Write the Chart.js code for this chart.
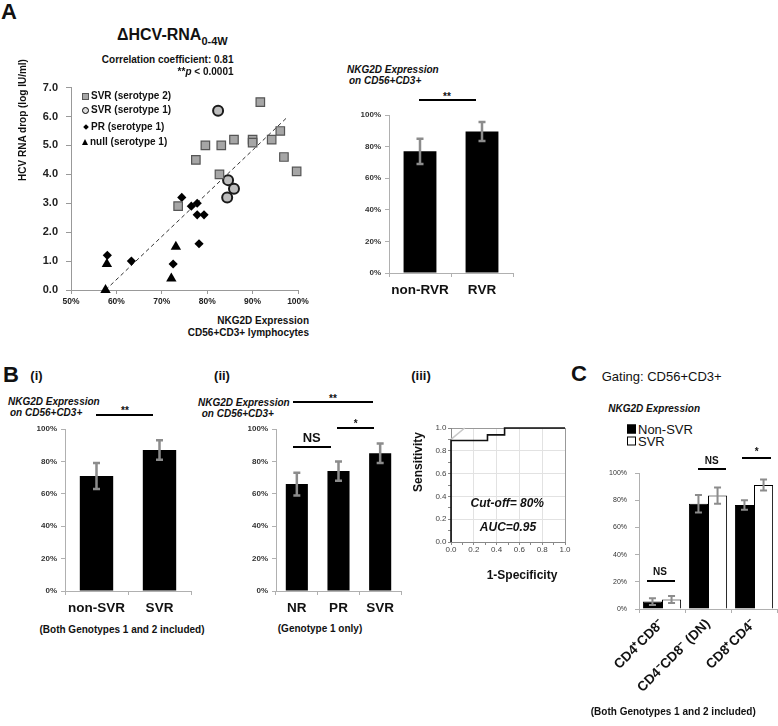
<!DOCTYPE html>
<html>
<head>
<meta charset="utf-8">
<script src="https://cdn.jsdelivr.net/npm/chart.js@4.4.0/dist/chart.umd.min.js"></script>
<style>
html, body { margin: 0; padding: 0; background: #fff; }
#fig { position: relative; width: 778px; height: 726px; overflow: hidden;
       font-family: "Liberation Sans", Arial, Helvetica, sans-serif; color: #111; }
canvas { position: absolute; }
.t { position: absolute; white-space: nowrap; line-height: 1; }
.sig { position: absolute; height: 2px; background: #000; }
</style>
</head>
<body>
<div id="fig">
  <canvas id="scatterA"></canvas>
  <canvas id="rvrBars"></canvas>
  <canvas id="svrBars"></canvas>
  <canvas id="g1Bars"></canvas>
  <canvas id="roc"></canvas>
  <canvas id="subsetBars"></canvas>
</div>
<script>
// ---- data ----
// A: NKG2D expression (%) vs HCV RNA drop (log IU/ml)
const svr2X = [91.7, 79.6, 83.1, 85.9, 90.0, 90.0, 94.2, 96.1, 96.9, 99.7, 77.5, 82.7, 73.6];
const svr2Y = [6.5, 5.0, 5.0, 5.2, 5.2, 5.1, 5.2, 5.5, 4.6, 4.1, 4.5, 4.0, 2.9];
const svr1X = [82.4, 84.6, 85.9, 84.4];
const svr1Y = [6.2, 3.8, 3.5, 3.2];
const prX = [74.4, 76.5, 77.8, 77.8, 79.3, 78.2, 58.0, 63.3, 72.5];
const prY = [3.2, 2.9, 3.0, 2.6, 2.6, 1.6, 1.2, 1.0, 0.9];
const nullX = [57.9, 57.6, 73.1, 72.1];
const nullY = [0.9, 0.0, 1.5, 0.4];
const trendX = [57.6, 97.8];
const trendY = [0.0, 6.0];

// A right: RVR
const rvrLabels = ['non-RVR', 'RVR'];
const rvrMeans = [77, 89.5];
const rvrErr = [8, 6];

// B(i): SVR, both genotypes
const svrLabels = ['non-SVR', 'SVR'];
const svrMeans = [71, 87];
const svrErr = [8, 6];

// B(ii): genotype 1 only
const g1Labels = ['NR', 'PR', 'SVR'];
const g1Means = [66, 74, 85];
const g1Err = [7, 6, 6];

// B(iii): ROC
const rocX = [0, 0, 0.32, 0.32, 0.47, 0.47, 1];
const rocY = [0, 0.89, 0.89, 0.94, 0.94, 1, 1];
const refX = [0, 0.12];
const refY = [0.9, 1.0];

// C: T cell subsets
const subsetLabels = ['CD4\u207ACD8\u207B', 'CD4\u207BCD8\u207B (DN)', 'CD8\u207ACD4\u207B'];
const nonSvrMeans = [5.5, 77.5, 76.5];
const nonSvrErr = [2.5, 6.5, 3.5];
const svrMeansC = [7, 83.5, 91.3];
const svrErrC = [2.5, 6, 4];

const zip = (xs, ys) => xs.map((x, i) => ({ x: x, y: ys[i] }));

Chart.defaults.font.family = '"Liberation Sans", Arial, Helvetica, sans-serif';
Chart.defaults.color = '#222';
Chart.defaults.animation = false;
Chart.defaults.responsive = false;
Chart.defaults.plugins.legend.display = false;
Chart.defaults.plugins.tooltip.enabled = false;

function place(id, left, top, w, h) {
  const c = document.getElementById(id);
  c.width = w; c.height = h;
  c.style.left = left + 'px'; c.style.top = top + 'px';
  c.style.width = w + 'px'; c.style.height = h + 'px';
  return c;
}

// error bars drawn from each dataset's errors array
const errorBars = {
  id: 'errorBars',
  afterDatasetsDraw(chart, args, opts) {
    const ctx = chart.ctx, y = chart.scales.y;
    chart.data.datasets.forEach((ds, i) => {
      if (!ds.errors) return;
      chart.getDatasetMeta(i).data.forEach((bar, j) => {
        const v = ds.data[j], e = ds.errors[j];
        const top = y.getPixelForValue(v + e), bot = y.getPixelForValue(v - e);
        ctx.save();
        ctx.strokeStyle = opts.color;
        ctx.lineWidth = opts.width;
        ctx.beginPath();
        ctx.moveTo(bar.x, top); ctx.lineTo(bar.x, bot);
        ctx.moveTo(bar.x - opts.cap, top); ctx.lineTo(bar.x + opts.cap, top);
        ctx.moveTo(bar.x - opts.cap, bot); ctx.lineTo(bar.x + opts.cap, bot);
        ctx.stroke();
        ctx.restore();
      });
    });
  }
};

const axisGray = '#b0b0b0';

function pctY(size, bold, tl, pad, w) {
  return {
    min: 0, max: 100,
    ticks: { stepSize: 20, callback: v => v + '%', color: '#333', padding: pad,
             font: { size: size, weight: bold ? 'bold' : 'normal' } },
    grid: { drawOnChartArea: false, drawTicks: true, tickLength: tl, color: axisGray },
    border: { color: axisGray },
    afterFit: s => { s.width = w; }
  };
}

function catX(size, pad, h, extra) {
  return Object.assign({
    ticks: { color: '#111', padding: pad, autoSkip: false, maxRotation: 0,
             font: { size: size, weight: 'bold' } },
    grid: { drawOnChartArea: false, drawTicks: true, tickLength: 4, color: axisGray, offset: true },
    border: { color: axisGray },
    afterFit: s => { s.height = h; }
  }, extra || {});
}

function simpleBars(id, box, labels, means, errs) {
  place(id, box[0], box[1], box[2], box[3]);
  return new Chart(document.getElementById(id), {
    type: 'bar',
    data: {
      labels: labels,
      datasets: [{ data: means, errors: errs, backgroundColor: '#000',
                   barPercentage: 0.53, categoryPercentage: 1 }]
    },
    options: {
      layout: { padding: { top: 10, right: 5, left: 0, bottom: 0 } },
      scales: { x: catX(13.5, 5.5, 30), y: pctY(8, true, 4, 4, 40) },
      plugins: { errorBars: { color: '#8c8c8c', width: 2.5, cap: 3.5 } }
    },
    plugins: [errorBars]
  });
}

// ---- A: scatter ----
place('scatterA', 21, 73, 292, 237);
new Chart(document.getElementById('scatterA'), {
  type: 'scatter',
  data: {
    datasets: [
      { data: zip(svr2X, svr2Y), pointStyle: 'rect', pointRadius: 6,
        backgroundColor: '#a6a6a6', borderColor: '#555', borderWidth: 1.2, clip: false },
      { data: zip(svr1X, svr1Y), pointStyle: 'circle', pointRadius: 5,
        backgroundColor: '#bdbdbd', borderColor: '#1a1a1a', borderWidth: 2, clip: false },
      { data: zip(prX, prY), pointStyle: 'rectRot', pointRadius: 4.6,
        backgroundColor: '#000', borderColor: '#000', borderWidth: 0, clip: false },
      { data: zip(nullX, nullY), pointStyle: 'triangle', pointRadius: 6,
        backgroundColor: '#000', borderColor: '#000', borderWidth: 0, clip: false },
      { data: zip(trendX, trendY), showLine: true, pointRadius: 0, borderColor: '#333',
        borderWidth: 1, borderDash: [4, 3], order: 10 }
    ]
  },
  options: {
    layout: { padding: { top: 10, right: 15, left: 0, bottom: 0 } },
    scales: {
      x: {
        min: 50, max: 100,
        ticks: { stepSize: 10, callback: v => v + '%', color: '#222', padding: 3,
                 font: { size: 8.5, weight: 'bold' } },
        grid: { drawOnChartArea: false, tickLength: 4, color: '#999' },
        border: { color: '#999' },
        afterFit: s => { s.height = 20; }
      },
      y: {
        min: 0, max: 7,
        ticks: { stepSize: 1, callback: v => v.toFixed(1), color: '#222', padding: 8,
                 font: { size: 11, weight: 'bold' } },
        grid: { drawOnChartArea: false, tickLength: 5, color: '#999' },
        border: { color: '#999' },
        afterFit: s => { s.width = 50; }
      }
    }
  }
});

// ---- A right, B(i), B(ii) ----
simpleBars('rvrBars', [349, 105, 169, 198], rvrLabels, rvrMeans, rvrErr);
simpleBars('svrBars', [25, 419, 171, 202], svrLabels, svrMeans, svrErr);
simpleBars('g1Bars', [236, 419, 170, 202], g1Labels, g1Means, g1Err);

// ---- B(iii): ROC ----
const rocGrid = ctx => {
  const k = Math.round(ctx.tick.value * 10);
  if (k === 10) return '#999';
  return (k > 0 && k % 2 === 0) ? '#e2e2e2' : 'rgba(0,0,0,0)';
};
const rocTick = v => (Math.round(v * 10) % 2 === 0 ? v.toFixed(1) : '');
place('roc', 426, 420, 147, 142);
new Chart(document.getElementById('roc'), {
  type: 'scatter',
  data: {
    datasets: [
      { data: zip(rocX, rocY), showLine: true, pointRadius: 0, borderColor: '#111',
        borderWidth: 1.6, clip: false },
      { data: zip(refX, refY), showLine: true, pointRadius: 0, borderColor: '#c8c8c8',
        borderWidth: 1.5, clip: false }
    ]
  },
  options: {
    layout: { padding: { top: 8, right: 8, left: 0, bottom: 0 } },
    scales: {
      x: {
        min: 0, max: 1,
        ticks: { stepSize: 0.1, autoSkip: false, maxRotation: 0, callback: rocTick,
                 color: '#444', padding: 0, font: { size: 8 } },
        grid: { color: rocGrid, tickColor: '#888', tickLength: 3 },
        border: { color: '#888' },
        afterFit: s => { s.height = 20; }
      },
      y: {
        min: 0, max: 1,
        ticks: { stepSize: 0.1, autoSkip: false, callback: rocTick,
                 color: '#444', padding: 1.5, font: { size: 8 } },
        grid: { color: rocGrid, tickColor: '#888', tickLength: 3 },
        border: { color: '#888' },
        afterFit: s => { s.width = 25; }
      }
    }
  }
});

// ---- C: subsets ----
place('subsetBars', 599, 461, 179, 258);
new Chart(document.getElementById('subsetBars'), {
  type: 'bar',
  data: {
    labels: subsetLabels,
    datasets: [
      { data: nonSvrMeans, errors: nonSvrErr, backgroundColor: '#000', borderColor: '#000',
        borderWidth: 1, barPercentage: 1, categoryPercentage: 0.83 },
      { data: svrMeansC, errors: svrErrC, backgroundColor: '#fff', borderColor: '#000',
        borderWidth: 1, barPercentage: 1, categoryPercentage: 0.83 }
    ]
  },
  options: {
    layout: { padding: { top: 10, right: 1, left: 0, bottom: 0 } },
    scales: {
      x: catX(13.5, 3, 110, {}),
      y: pctY(7, false, 4, 8, 40)
    },
    plugins: { errorBars: { color: '#8c8c8c', width: 2, cap: 3.5 } }
  },
  plugins: [errorBars]
});
(function () {
  const c = Chart.getChart('subsetBars');
  c.options.scales.x.ticks.minRotation = 45;
  c.options.scales.x.ticks.maxRotation = 45;
  c.update();
})();

// ---- text annotations ----
const sq = (bg, bd) => '<span style="display:inline-block;width:5px;height:5px;background:' + bg +
  ';border:1px solid ' + bd + ';margin-right:2px"></span>';
const circ = '<span style="display:inline-block;width:5px;height:5px;border-radius:50%;background:#ddd;border:1.5px solid #000;margin-right:2px"></span>';
const diam = '<span style="display:inline-block;width:4px;height:4px;background:#000;transform:rotate(45deg);margin:0 3px 0 2px"></span>';
const tri = '<span style="display:inline-block;width:0;height:0;border-left:3.5px solid transparent;border-right:3.5px solid transparent;border-bottom:6px solid #000;margin-right:2px"></span>';
const bigSq = (bg) => '<span style="display:inline-block;width:7px;height:7px;background:' + bg +
  ';border:1px solid #000;margin-right:2px"></span>';

const notes = [
  // panel A
  { h: 'A', x: 1, y: 12, s: 22, b: 1 },
  { h: '\u0394HCV-RNA<span style="font-size:11px;position:relative;top:5px">0-4W</span>', x: 117, y: 35, s: 16, b: 1 },
  { h: 'Correlation coefficient: 0.81', x: 233.5, y: 60, s: 10, b: 1, a: 'r' },
  { h: '**<i>p</i> &lt; 0.0001', x: 233.5, y: 72, s: 10, b: 1, a: 'r' },
  { h: 'HCV RNA drop (log IU/ml)', x: 23, y: 120, s: 10, b: 1, rot: 1 },
  { h: 'NKG2D Expression', x: 309, y: 320.7, s: 10, b: 1, a: 'r' },
  { h: 'CD56+CD3+ lymphocytes', x: 309, y: 332.7, s: 10, b: 1, a: 'r' },
  { h: sq('#a6a6a6', '#555') + 'SVR (serotype 2)', x: 82, y: 96, s: 10, b: 1, flex: 1 },
  { h: circ + 'SVR (serotype 1)', x: 82, y: 110, s: 10, b: 1, flex: 1 },
  { h: diam + 'PR (serotype 1)', x: 82, y: 126.7, s: 10, b: 1, flex: 1 },
  { h: tri + 'null (serotype 1)', x: 82, y: 141.7, s: 10, b: 1, flex: 1 },
  { h: 'NKG2D Expression', x: 347, y: 70, s: 10, b: 1, i: 1 },
  { h: 'on CD56+CD3+', x: 349, y: 81, s: 10, b: 1, i: 1 },
  { h: '**', x: 447, y: 97, s: 10, b: 1, a: 'c' },
  // panel B
  { h: 'B', x: 3, y: 375, s: 22, b: 1 },
  { h: '(i)', x: 36.5, y: 375, s: 13, b: 1, a: 'c' },
  { h: '(ii)', x: 222, y: 375, s: 13, b: 1, a: 'c' },
  { h: '(iii)', x: 421, y: 375, s: 13, b: 1, a: 'c' },
  { h: 'NKG2D Expression', x: 8, y: 402, s: 10, b: 1, i: 1 },
  { h: 'on CD56+CD3+', x: 10, y: 413, s: 10, b: 1, i: 1 },
  { h: '**', x: 125, y: 411, s: 10, b: 1, a: 'c' },
  { h: '(Both Genotypes 1 and 2 included)', x: 122, y: 630, s: 10, b: 1, a: 'c' },
  { h: 'NKG2D Expression', x: 198, y: 402.7, s: 10, b: 1, i: 1 },
  { h: 'on CD56+CD3+', x: 201.7, y: 414, s: 10, b: 1, i: 1 },
  { h: '**', x: 333, y: 398.7, s: 10, b: 1, a: 'c' },
  { h: '*', x: 355.7, y: 423.7, s: 10, b: 1, a: 'c' },
  { h: 'NS', x: 311.7, y: 436.7, s: 13, b: 1, a: 'c' },
  { h: '(Genotype 1 only)', x: 320, y: 629.3, s: 10, b: 1, a: 'c' },
  { h: 'Sensitivity', x: 418.3, y: 461.7, s: 12, b: 1, rot: 1 },
  { h: 'Cut-off= 80%', x: 507.3, y: 503.3, s: 12, b: 1, i: 1, a: 'c' },
  { h: 'AUC=0.95', x: 508, y: 526.7, s: 12, b: 1, i: 1, a: 'c' },
  { h: '1-Specificity', x: 522, y: 575, s: 12, b: 1, a: 'c' },
  // panel C
  { h: 'C', x: 571, y: 374, s: 22, b: 1 },
  { h: 'Gating: CD56+CD3+', x: 601.7, y: 376, s: 13 },
  { h: 'NKG2D Expression', x: 608.3, y: 408.7, s: 10, b: 1, i: 1 },
  { h: bigSq('#000') + 'Non-SVR', x: 627, y: 429, s: 13, flex: 1 },
  { h: bigSq('#fff') + 'SVR', x: 627, y: 440.5, s: 13, flex: 1 },
  { h: 'NS', x: 660, y: 571.7, s: 10, b: 1, a: 'c' },
  { h: 'NS', x: 711.7, y: 461, s: 10, b: 1, a: 'c' },
  { h: '*', x: 756.7, y: 452, s: 10, b: 1, a: 'c' },
  { h: '(Both Genotypes 1 and 2 included)', x: 673.3, y: 711.7, s: 10, b: 1, a: 'c' }
];

const sigLines = [
  [419, 476, 100], [96, 153, 414.7], [293, 373, 402], [337, 374, 427.7],
  [293, 331, 446.7], [647, 675, 580.7], [698, 726, 469.3], [742, 771, 458.3]
];

const fig = document.getElementById('fig');
notes.forEach(n => {
  const d = document.createElement('div');
  d.className = 't';
  d.innerHTML = n.h;
  d.style.fontSize = n.s + 'px';
  d.style.fontWeight = n.b ? 'bold' : 'normal';
  d.style.fontStyle = n.i ? 'italic' : 'normal';
  d.style.left = n.x + 'px';
  d.style.top = n.y + 'px';
  if (n.flex) { d.style.display = 'flex'; d.style.alignItems = 'center'; }
  if (n.rot) {
    d.style.transform = 'translate(-50%,-50%) rotate(-90deg)';
  } else {
    const ax = n.a === 'c' ? '-50%' : (n.a === 'r' ? '-100%' : '0');
    d.style.transform = 'translate(' + ax + ',-50%)';
  }
  fig.appendChild(d);
});
sigLines.forEach(l => {
  const d = document.createElement('div');
  d.className = 'sig';
  d.style.left = l[0] + 'px';
  d.style.width = (l[1] - l[0]) + 'px';
  d.style.top = (l[2] - 1) + 'px';
  fig.appendChild(d);
});
</script>
</body>
</html>
